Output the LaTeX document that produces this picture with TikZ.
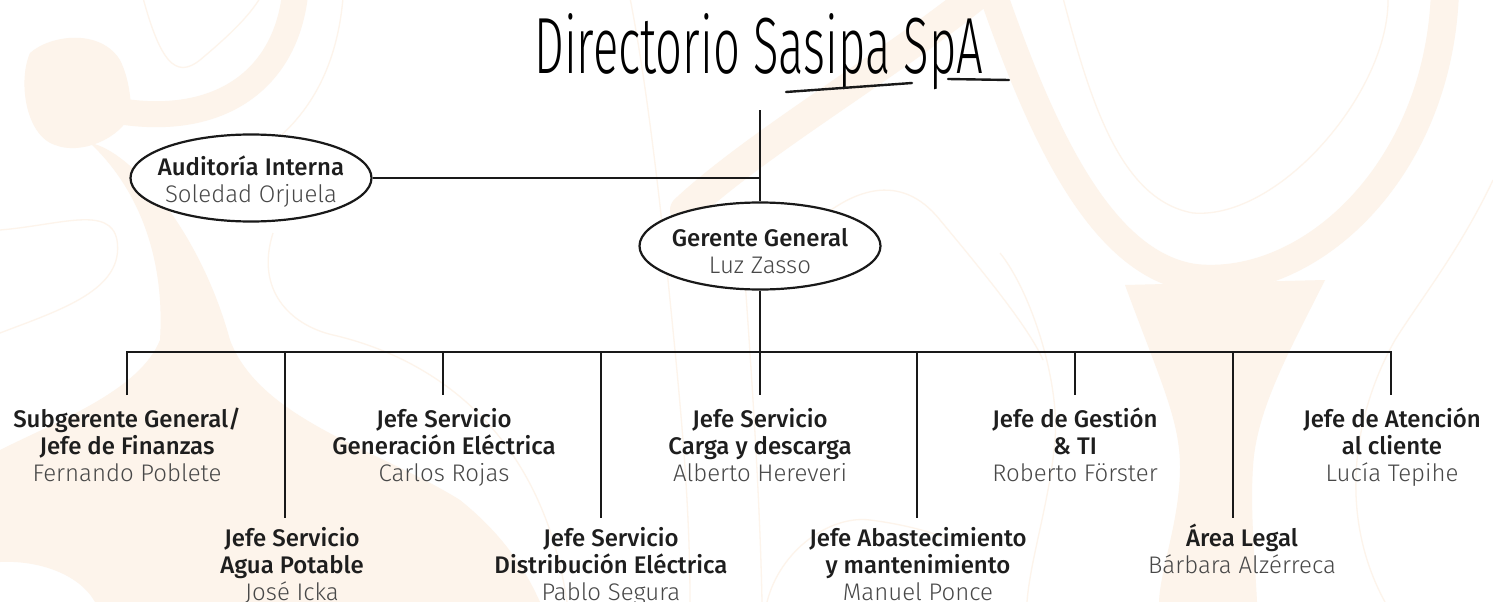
\documentclass[tikz,border=0pt]{standalone}
\usepackage{fontspec}
\usepackage{graphicx}
\usetikzlibrary{shapes.geometric}
\newfontfamily\rolef{Fira Sans Medium}
\newfontfamily\namef{Fira Sans Light}
\newfontfamily\titlef{Fira Sans Light}
\definecolor{bgc}{RGB}{253,244,235}
\definecolor{rolec}{RGB}{30,30,30}
\definecolor{namec}{RGB}{72,72,72}
\definecolor{linec}{RGB}{25,25,25}
\newcommand{\pname}[1]{{\namef\color{namec}#1}}
\newcommand{\mystrut}{\rule{0pt}{22pt}}
\tikzset{
  bgline/.style={draw=bgc, line width=1.3pt},
  conn/.style={draw=linec, line width=2.2pt},
  uline/.style={draw=linec, line width=2.4pt, line cap=round},
  rolefont/.style={font=\rolef\fontsize{24}{27}\selectfont, text=rolec},
  oval/.style={ellipse, draw=linec, line width=2.2pt, fill=white, minimum width=241pt, minimum height=87pt, inner sep=0pt},
  ovaltext/.style={rolefont, align=center, inner sep=0pt},
  post/.style={anchor=north, inner xsep=0pt, inner ysep=10pt, align=center, rolefont},
}
\begin{document}
\begin{tikzpicture}[x=1pt,y=-1pt]
\useasboundingbox (0,0) rectangle (1493,602);
\fill[white] (0,0) rectangle (1493,602);
% ---------- background decoration ----------
\fill[bgc] (30,53) .. controls (50,35) and (100,28) .. (120,60) .. controls (130,80) and (130,100) .. (132,112) .. controls (120,140) and (80,155) .. (55,145) .. controls (25,135) and (18,80) .. (30,53) -- cycle;
\draw[bgc, line width=26pt] (295,-5) .. controls (285,80) and (220,125) .. (125,112);
\fill[bgc] (90,143) .. controls (130,150) and (200,230) .. (230,340) .. controls (260,420) and (380,450) .. (460,500) .. controls (510,540) and (530,580) .. (540,602) -- (95,602) .. controls (80,575) and (40,560) .. (0,562) -- (0,450) .. controls (60,420) and (140,390) .. (160,340) .. controls (165,260) and (140,190) .. (90,143) -- cycle;
\draw[bgc, line width=30pt, line cap=round] (995,-20) .. controls (900,60) and (760,140) .. (685,210);
\draw[bgc, line width=28pt] (990,-15) .. controls (1040,130) and (1100,265) .. (1195,278) .. controls (1310,290) and (1440,170) .. (1445,-10);
\fill[bgc] (1125,285) .. controls (1160,380) and (1180,420) .. (1180,467) .. controls (1180,520) and (1160,570) .. (1159,602) -- (1257,602) .. controls (1255,560) and (1250,510) .. (1253,467) .. controls (1256,410) and (1290,350) .. (1325,280) -- cycle;
\draw[bgline] (143,-2) .. controls (160,60) and (175,80) .. (200,60) .. controls (230,35) and (250,15) .. (260,-2);
\draw[bgline] (343,-2) .. controls (335,90) and (290,140) .. (230,170);
\draw[bgline] (0,230) .. controls (60,225) and (110,205) .. (117,240) .. controls (125,290) and (60,310) .. (0,333);
\draw[bgline] (273,233) .. controls (255,290) and (290,325) .. (333,335) .. controls (420,355) and (540,420) .. (567,602);
\draw[bgline] (1063,-2) .. controls (1090,100) and (1120,200) .. (1193,213) .. controls (1280,220) and (1390,90) .. (1388,-2);
\draw[bgline] (1493,180) .. controls (1460,250) and (1420,300) .. (1395,340) .. controls (1350,420) and (1340,520) .. (1385,602);
\draw[bgline] (1000,253) .. controls (1030,290) and (1060,380) .. (1055,440) .. controls (1050,500) and (1030,560) .. (1027,602);
\draw[bgline] (810,227) .. controls (850,190) and (900,170) .. (940,220) .. controls (990,280) and (1030,330) .. (1043,360);
\draw[bgline] (630,-2) .. controls (650,100) and (665,250) .. (670,300) .. controls (680,400) and (690,500) .. (690,602);
\draw[bgline] (745,280) .. controls (752,380) and (760,500) .. (762,602);
\draw[bgline] (767,602) .. controls (780,550) and (830,515) .. (870,520) .. controls (910,525) and (940,535) .. (950,540);
% ---------- title ----------
\node[anchor=base west, inner sep=0pt] (title) at (534,74) {\resizebox{449pt}{60pt}{\titlef Directorio Sasipa SpA}};
\draw[uline] (786,92) -- (912,83);
\draw[uline] (948,79) -- (1009,80);
% ---------- nodes ----------
\node[oval, label={[ovaltext, yshift=-4pt]center:Auditoría Interna\\\pname{Soledad Orjuela}}] (aud) at (251,178) {};
\node[oval, label={[ovaltext, yshift=-5pt]center:Gerente General\\\pname{Luz Zasso}}] (ger) at (760,246) {};
\coordinate (top) at (760,110);
\coordinate (bus) at (760,352);
\coordinate (b1) at (127,352);
\coordinate (b2) at (285,352);
\coordinate (b3) at (443,352);
\coordinate (b4) at (601,352);
\coordinate (b6) at (917,352);
\coordinate (b7) at (1075,352);
\coordinate (b8) at (1233,352);
\coordinate (b9) at (1391,352);
\node[post] (n1) at (127,395) {\mystrut Subgerente General/\\Jefe de Finanzas\\\pname{Fernando Poblete}};
\node[post, inner ysep=6pt] (n2) at (292,518) {\mystrut Jefe Servicio\\Agua Potable\\\pname{José Icka}};
\node[post] (n3) at (444,395) {\mystrut Jefe Servicio\\Generación Eléctrica\\\pname{Carlos Rojas}};
\node[post, inner ysep=6pt] (n4) at (611,518) {\mystrut Jefe Servicio\\Distribución Eléctrica\\\pname{Pablo Segura}};
\node[post] (n5) at (760,395) {\mystrut Jefe Servicio\\Carga y descarga\\\pname{Alberto Hereveri}};
\node[post, inner ysep=6pt] (n6) at (918,518) {\mystrut Jefe Abastecimiento\\y mantenimiento\\\pname{Manuel Ponce}};
\node[post] (n7) at (1075,395) {\mystrut Jefe de Gestión\\\& TI\\\pname{Roberto Förster}};
\node[post, inner ysep=6pt] (n8) at (1242,518) {\mystrut Área Legal\\\pname{Bárbara Alzérreca}};
\node[post] (n9) at (1392,395) {\mystrut Jefe de Atención\\al cliente\\\pname{Lucía Tepihe}};
% ---------- connectors ----------
\draw[conn] (top) -- (ger.north);
\draw[conn] (aud.east) -- (aud.east -| top);
\draw[conn] (ger.south) -- (bus);
\draw[conn] (b1 |- n1.north) -- (b1) -- (b9) -- (b9 |- n9.north);
\draw[conn] (b2) -- (b2 |- n2.north);
\draw[conn] (b3) -- (b3 |- n3.north);
\draw[conn] (b4) -- (b4 |- n4.north);
\draw[conn] (bus) -- (n5.north);
\draw[conn] (b6) -- (b6 |- n6.north);
\draw[conn] (b7) -- (b7 |- n7.north);
\draw[conn] (b8) -- (b8 |- n8.north);
\end{tikzpicture}
\end{document}
